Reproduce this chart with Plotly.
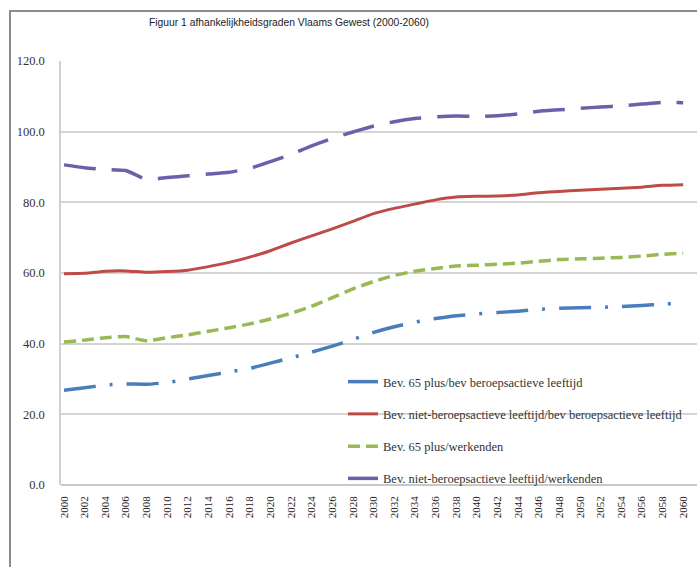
import plotly.graph_objects as go

years = list(range(2000, 2061, 2))
tick_labels = [str(y) for y in years]

names = [
    "Bev. 65 plus/bev beroepsactieve leeftijd",
    "Bev. niet-beroepsactieve leeftijd/bev beroepsactieve leeftijd",
    "Bev. 65 plus/werkenden",
    "Bev. niet-beroepsactieve leeftijd/werkenden",
]

blue = [26.8, 27.5, 28.3, 28.6, 28.5, 29.0, 30.0, 31.0, 32.0, 33.0, 34.5, 36.0, 37.6, 39.3,
        41.2, 43.2, 44.8, 46.1, 47.1, 47.9, 48.4, 48.8, 49.2, 49.7, 50.0, 50.2, 50.3, 50.5,
        50.8, 51.2, 51.5]
red = [59.8, 59.9, 60.5, 60.6, 60.2, 60.4, 60.8, 61.8, 63.0, 64.5, 66.3, 68.5, 70.5, 72.5,
       74.6, 76.8, 78.3, 79.5, 80.7, 81.5, 81.7, 81.8, 82.1, 82.7, 83.1, 83.4, 83.7, 84.0,
       84.3, 84.8, 85.0]
green = [40.5, 41.0, 41.7, 42.0, 40.8, 41.7, 42.5, 43.5, 44.5, 45.6, 47.0, 48.6, 50.6, 53.0,
         55.5, 57.6, 59.3, 60.5, 61.3, 62.0, 62.2, 62.5, 62.8, 63.3, 63.8, 64.0, 64.2, 64.4,
         64.8, 65.3, 65.6]
purple = [90.6, 89.8, 89.3, 89.0, 86.5, 87.0, 87.5, 88.0, 88.5, 89.6, 91.5, 93.6, 96.0, 98.1,
          99.9, 101.6, 102.8, 103.7, 104.2, 104.4, 104.3, 104.5, 105.0, 105.8, 106.2, 106.6,
          107.0, 107.3, 107.8, 108.3, 108.2]

series = [blue, red, green, purple]
colors = ["#4A7EBB", "#BE4B48", "#98B954", "#6E5FAA"]
dashes = ["32px,14px,3px,14px", "solid", "12px,6px", "32px,16px"]
widths = [3.5, 3, 3.5, 3.5]

fig = go.Figure()
for i, (nm, vals) in enumerate(zip(names, series)):
    fig.add_trace(go.Scatter(
        x=years, y=vals, name=nm, mode="lines",
        line=dict(color=colors[i], width=widths[i], dash=dashes[i], shape="spline", smoothing=0.5),
        legendgroup=str(i),
    ))

L, R, T, B = 61, 0, 61, 82
W, H = 697, 567
pw, ph = W - L - R, H - T - B

def px_x(x):
    return (x - L) / pw

def px_y(y):
    return (H - B - y) / ph

fig.update_layout(
    width=W, height=H,
    margin=dict(l=L, r=R, t=T, b=B),
    paper_bgcolor="white", plot_bgcolor="white",
    showlegend=True,
    legend=dict(
        x=px_x(343), y=px_y(367), xanchor="left", yanchor="top",
        bgcolor="rgba(0,0,0,0)", tracegroupgap=13,
        font=dict(family="Liberation Serif", size=12.5, color="#333"),
    ),
    xaxis=dict(
        range=[1999.71, 2061.34], tickmode="array", tickvals=years, ticktext=tick_labels,
        tickangle=-90, showgrid=False, zeroline=False, showline=False, ticks="",
        tickfont=dict(family="Liberation Serif", size=11, color="#222"),
        ticklabelstandoff=8,
    ),
    yaxis=dict(
        range=[0, 120], tickmode="array", tickvals=[0, 20, 40, 60, 80, 100, 120],
        ticktext=["0.0", "20.0", "40.0", "60.0", "80.0", "100.0", "120.0"],
        showgrid=True, gridcolor="#D4D4D4", gridwidth=1.5, zeroline=True,
        zerolinecolor="#C8C8C8", zerolinewidth=1.5,
        showline=True, linecolor="#D0D0D0", linewidth=1.5, ticks="",
        tickfont=dict(family="Liberation Serif", size=12.5, color="#333"),
        ticklabelstandoff=12,
    ),
    title=dict(
        text="Figuur 1 afhankelijkheidsgraden Vlaams Gewest (2000-2060)",
        xanchor="center", xref="paper",
        y=1 - 22 / H, yanchor="middle", yref="container",
        font=dict(family="Liberation Sans", size=10.3, color="#222"),
    ),
    shapes=[dict(
        type="rect", xref="paper", yref="paper",
        x0=px_x(10), x1=px_x(760), y0=px_y(600), y1=px_y(11),
        line=dict(color="#8C8C8C", width=2), fillcolor="rgba(0,0,0,0)", layer="below",
    )],
)
fig.update_layout(title_x=px_x(289))

fig.write_html("out.html", config={"displayModeBar": False},
               post_script="document.body.style.margin='0';")
